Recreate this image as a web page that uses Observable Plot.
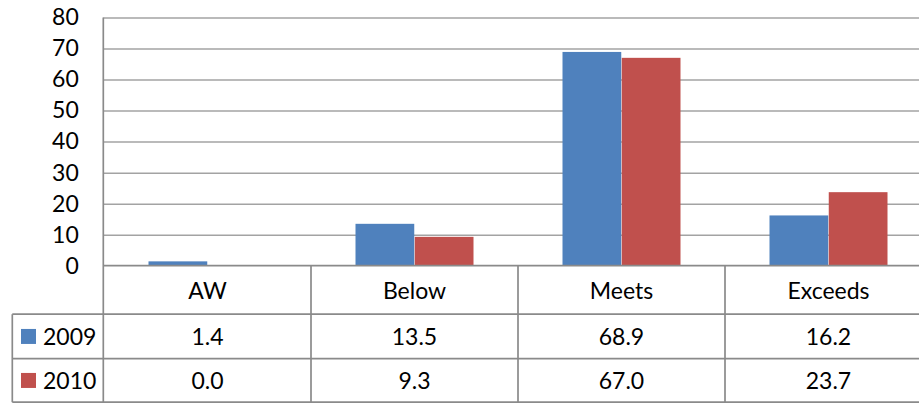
<!DOCTYPE html>
<html>
<head>
<meta charset="utf-8">
<script src="https://cdn.jsdelivr.net/npm/d3@7"></script>
<script src="https://cdn.jsdelivr.net/npm/@observablehq/plot@0.6"></script>
<style>
  html, body { margin: 0; padding: 0; background: #fff; overflow: hidden; }
  #chart svg { display: block; }
</style>
</head>
<body>
<div id="chart"></div>
<script>
const categories = ["AW", "Below", "Meets", "Exceeds"];
const series = ["2009", "2010"];
const values2009 = [1.4, 13.5, 68.9, 16.2];
const values2010 = [0.0, 9.3, 67.0, 23.7];
const yTicks = [0, 10, 20, 30, 40, 50, 60, 70, 80];
const seriesColors = ["#4F81BD", "#C0504D"];

const FONT = "Lato, 'Open Sans', sans-serif";
const FS = 23;
const W = 919, H = 404;
const mL = 103.3, mT = 17.5, mB = H - 265.7;
const bandW = 207.5;
const gridColor = "#a3a3a3";
const tableColor = "#8a8a8a";

const rows = [
  categories.map((c, i) => ({category: c, series: series[0], value: values2009[i]})),
  categories.map((c, i) => ({category: c, series: series[1], value: values2010[i]}))
];
const seriesValues = [values2009, values2010];

// bar geometry inside each band (Excel-like gap width)
const gap = 44.5, barW = (bandW - 2 * gap) / 2;

function tableMark(index, scales, values, dimensions) {
  const x = scales.x;
  const bw = x.bandwidth ? x.bandwidth() : (x(categories[1]) - x(categories[0]));
  const left = dimensions.marginLeft;
  const top = dimensions.height - dimensions.marginBottom;
  const rowY = [top, top + 48.5, top + 93, top + 136.5];
  const tableLeft = 12.3;
  const right = x(categories[categories.length - 1]) + bw;
  const g = d3.create("svg:g");
  const lines = g.append("g").attr("stroke", tableColor).attr("stroke-width", 1.7).attr("fill", "none");
  lines.append("line").attr("x1", left).attr("x2", left).attr("y1", dimensions.marginTop).attr("y2", rowY[3]);
  categories.forEach((c, i) => {
    if (i === 0) return;
    lines.append("line").attr("x1", x(c)).attr("x2", x(c)).attr("y1", rowY[0]).attr("y2", rowY[3]);
  });
  lines.append("line").attr("x1", right).attr("x2", right).attr("y1", rowY[0]).attr("y2", rowY[3]);
  lines.append("line").attr("x1", tableLeft).attr("x2", tableLeft).attr("y1", rowY[1]).attr("y2", rowY[3]);
  lines.append("line").attr("x1", left).attr("x2", right).attr("y1", rowY[0]).attr("y2", rowY[0]);
  for (let r = 1; r < 4; r++) {
    lines.append("line").attr("x1", tableLeft).attr("x2", right).attr("y1", rowY[r]).attr("y2", rowY[r]);
  }
  const txt = g.append("g").attr("font-family", FONT).attr("font-size", FS).attr("fill", "#000");
  categories.forEach(c => {
    txt.append("text").attr("x", x(c) + bw / 2).attr("y", (rowY[0] + rowY[1]) / 2)
      .attr("text-anchor", "middle").attr("dominant-baseline", "central").text(c);
  });
  series.forEach((s, si) => {
    const cy = (rowY[si + 1] + rowY[si + 2]) / 2;
    g.append("rect").attr("x", 21).attr("y", cy - 7.5).attr("width", 15).attr("height", 15).attr("fill", seriesColors[si]);
    txt.append("text").attr("x", 43).attr("y", cy).attr("text-anchor", "start")
      .attr("dominant-baseline", "central").text(s);
    categories.forEach((c, ci) => {
      txt.append("text").attr("x", x(c) + bw / 2).attr("y", cy)
        .attr("text-anchor", "middle").attr("dominant-baseline", "central")
        .text(seriesValues[si][ci].toFixed(1));
    });
  });
  return g.node();
}

const chart = Plot.plot({
  width: W,
  height: H,
  marginLeft: mL,
  marginRight: 0,
  marginTop: mT,
  marginBottom: mB,
  style: {fontFamily: FONT, fontSize: FS + "px", color: "#000", background: "#fff", overflow: "hidden"},
  x: {domain: categories, range: [mL, mL + bandW * categories.length], padding: 0, axis: null},
  y: {domain: [0, 80], axis: null},
  marks: [
    Plot.ruleY(yTicks.filter(d => d > 0), {stroke: gridColor, strokeWidth: 1.5}),
    Plot.barY(rows[0], {x: "category", y: "value", fill: seriesColors[0], insetLeft: gap, insetRight: gap + barW}),
    Plot.barY(rows[1], {x: "category", y: "value", fill: seriesColors[1], insetLeft: gap + barW, insetRight: gap}),
    Plot.axisY({ticks: yTicks, tickSize: 0, tickPadding: 25, fontSize: FS, fontFamily: FONT, label: null, fill: "#000"}),
    tableMark
  ]
});
document.getElementById("chart").appendChild(chart);
</script>
</body>
</html>
